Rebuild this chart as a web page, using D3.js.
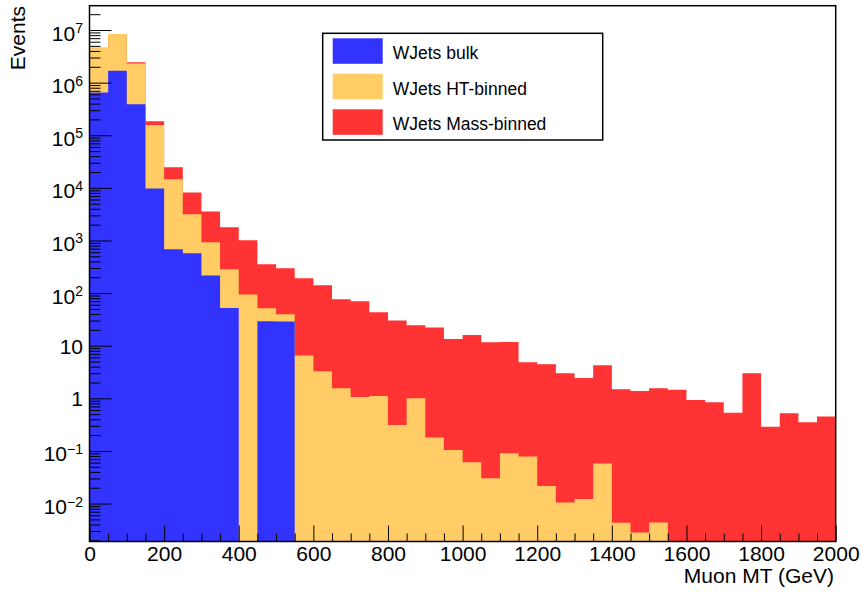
<!DOCTYPE html>
<html>
<head>
<meta charset="utf-8">
<script src="https://cdn.jsdelivr.net/npm/d3@7"></script>
<style>
  body { margin: 0; background: #fff; }
  svg text { font-family: "Liberation Sans", Arial, Helvetica, sans-serif; fill: #000; }
</style>
</head>
<body>
<svg id="chart" width="862" height="592"></svg>
<script>
// Lower edges of the 50 GeV Muon MT bins
const binLow = [0, 50, 100, 150, 200, 250, 300, 350, 400, 450,
                500, 550, 600, 650, 700, 750, 800, 850, 900, 950,
                1000, 1050, 1100, 1150, 1200, 1250, 1300, 1350, 1400, 1450,
                1500, 1550, 1600, 1650, 1700, 1750, 1800, 1850, 1900, 1950];
const binWidth = 50;

// Events per bin for each sample (stacked bulk -> HT-binned -> Mass-binned)
const wjetsBulk = [650000, 1680000, 390000, 9700, 682, 572, 215, 52.2, 0, 29.1,
                   29, 0, 0, 0, 0, 0, 0, 0, 0, 0,
                   0, 0, 0, 0, 0, 0, 0, 0, 0, 0,
                   0, 0, 0, 0, 0, 0, 0, 0, 0, 0];
const wjetsHT = [3950000, 6720000, 1930000, 146300, 13918, 2588, 712, 231.8, 93.8, 22.4,
                 10.6, 6.49, 3.26, 1.55, 1.06, 1.11, 0.311, 1.0, 0.181, 0.104,
                 0.0607, 0.0301, 0.090, 0.0788, 0.0215, 0.0105, 0.0122, 0.058, 0.00432, 0.00283,
                 0.00438, 0, 0, 0, 0, 0, 0, 0, 0, 0];
const wjetsMass = [0, 0, 110000, 29000, 10100, 5040, 2623, 1506, 916, 301.5,
                   257.4, 184.5, 137.7, 74.85, 68.94, 42.09, 29.69, 23.4, 21.92, 13.3,
                   15.94, 11.57, 11.71, 4.76, 4.41, 2.98, 2.42, 4.18, 1.476, 1.377,
                   1.546, 1.46, 0.93, 0.84, 0.534, 2.99, 0.289, 0.518, 0.35, 0.449];

const sampleKeys = ["bulk", "ht", "mass"];
const sampleNames = ["WJets bulk", "WJets HT-binned", "WJets Mass-binned"];
const sampleColors = ["#3333ff", "#ffcc66", "#ff3333"];

// Axis ticks and labels
const xTicks = [0, 200, 400, 600, 800, 1000, 1200, 1400, 1600, 1800, 2000];
const xTickLabels = ["0", "200", "400", "600", "800", "1000", "1200", "1400", "1600", "1800", "2000"];
const yDecades = [-2, -1, 0, 1, 2, 3, 4, 5, 6, 7];
const xTitle = "Muon MT (GeV)";
const yTitle = "Events";

// ---- layout ----
const frame = { left: 89.5, right: 835.7, top: 5.7, bottom: 541.5 };
const yMin = 0.0019, yMax = 2.9e7;

const svg = d3.select("#chart");

const x = d3.scaleLinear().domain([0, 2000]).range([frame.left, frame.right]);
const y = d3.scaleLog().domain([yMin, yMax]).range([frame.bottom, frame.top]).clamp(true);
const yv = v => y(Math.max(v, yMin));

// ---- stacked histogram ----
const rows = binLow.map((lo, i) => ({ lo, bulk: wjetsBulk[i], ht: wjetsHT[i], mass: wjetsMass[i] }));
const stacked = d3.stack().keys(sampleKeys)(rows);

const area = d3.area()
  .x(p => x(p.x))
  .y0(frame.bottom)
  .y1(p => yv(p.v));

// Each layer is painted from the axis floor up to its cumulative top, topmost first
const plot = svg.append("g");
for (let k = stacked.length - 1; k >= 0; k--) {
  const pts = [];
  stacked[k].forEach(d => {
    pts.push({ x: d.data.lo, v: d[1] });
    pts.push({ x: d.data.lo + binWidth, v: d[1] });
  });
  plot.append("path")
    .datum(pts)
    .attr("d", area)
    .attr("fill", sampleColors[k]);
}

// ---- axes ----
const xMinor = d3.range(0, 2001, 50).filter(v => !xTicks.includes(v));
svg.append("g")
  .attr("transform", `translate(0,${frame.bottom})`)
  .call(d3.axisBottom(x).tickValues(xMinor).tickSize(-8).tickFormat(""))
  .call(g => g.select(".domain").remove());

const gx = svg.append("g")
  .attr("transform", `translate(0,${frame.bottom})`)
  .call(d3.axisBottom(x).tickValues(xTicks).tickSize(-16).tickPadding(5)
    .tickFormat((d, i) => xTickLabels[i]));
gx.select(".domain").remove();
gx.selectAll("text").attr("font-size", 21).attr("font-family", null);

const yMinor = [];
for (let n = -3; n <= 7; n++) {
  for (let m = 2; m <= 9; m++) {
    const v = m * Math.pow(10, n);
    if (v >= yMin && v <= yMax) yMinor.push(v);
  }
}
svg.append("g")
  .attr("transform", `translate(${frame.left},0)`)
  .call(d3.axisLeft(y).tickValues(yMinor).tickSize(-11).tickFormat(""))
  .call(g => g.select(".domain").remove());

const yMajor = yDecades.map(n => Math.pow(10, n));
const gy = svg.append("g")
  .attr("transform", `translate(${frame.left},0)`)
  .call(d3.axisLeft(y).tickValues(yMajor).tickSize(-22).tickFormat(""));
gy.select(".domain").remove();

// Decade labels: 1, 10, and 10 with a superscript power otherwise
gy.selectAll(".tick").each(function (d, i) {
  const n = yDecades[i];
  const t = d3.select(this).select("text")
    .attr("x", -6.5)
    .attr("dy", null)
    .attr("text-anchor", "end")
    .attr("font-family", null)
    .attr("font-size", 21);
  if (n === 0 || n === 1) {
    t.attr("y", 7.5).text(n === 0 ? "1" : "10");
  } else {
    t.attr("y", 10);
    t.append("tspan").text("10");
    t.append("tspan")
      .attr("font-size", 14)
      .attr("dy", -7.5)
      .text(n < 0 ? "\u2212" + Math.abs(n) : String(n));
  }
});

// ---- frame ----
svg.append("rect")
  .attr("x", frame.left).attr("y", frame.top)
  .attr("width", frame.right - frame.left)
  .attr("height", frame.bottom - frame.top)
  .attr("fill", "none").attr("stroke", "#000").attr("stroke-width", 1.5);

// ---- axis titles ----
svg.append("text")
  .attr("x", 834).attr("y", 583)
  .attr("text-anchor", "end")
  .attr("font-size", 21)
  .text(xTitle);

svg.append("text")
  .attr("transform", "translate(25,6) rotate(-90)")
  .attr("text-anchor", "end")
  .attr("font-size", 21)
  .text(yTitle);

// ---- legend ----
const legend = svg.append("g");
legend.append("rect")
  .attr("x", 322.7).attr("y", 33.3).attr("width", 280).attr("height", 106.7)
  .attr("fill", "#fff").attr("stroke", "#000").attr("stroke-width", 1.5);

const rowTop = [38.3, 73.8, 109.3];
sampleNames.forEach((name, i) => {
  legend.append("rect")
    .attr("x", 332.7).attr("y", rowTop[i]).attr("width", 50).attr("height", 25.5)
    .attr("fill", sampleColors[i]);
  legend.append("text")
    .attr("x", 392.7).attr("y", rowTop[i] + 21)
    .attr("font-size", 17.5)
    .text(name);
});
</script>
</body>
</html>
